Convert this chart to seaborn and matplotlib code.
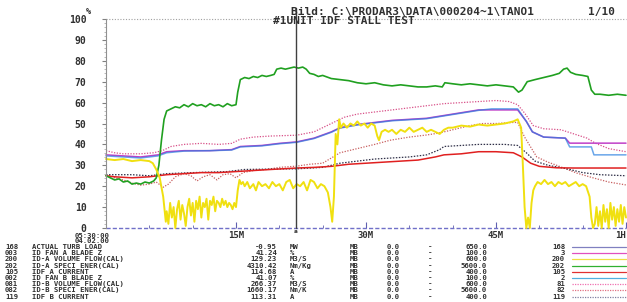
import matplotlib
matplotlib.use("Agg")
import matplotlib.pyplot as plt
import numpy as np
import pandas as pd
import seaborn as sns
from matplotlib.ticker import MultipleLocator

sns.set_theme(style="white")
plt.rcParams['font.family'] = ['DejaVu Sans Mono', 'DejaVu Sans']

# ---------------- data (minutes after 05:30:00, percent of range) ----------------
t_load = [0, 60]
v_load = [-0.15, -0.15]

t_blade_a = [0, 2, 4, 5, 6, 7, 9, 12, 14.5, 15.5, 18, 20, 22, 24, 26, 27, 29, 31, 33, 35, 37,
             38.5, 40, 41.5, 43, 46, 47.5, 48.5, 49.2, 50.5, 53, 53.5, 60]
v_blade_a = [35, 34.5, 34, 34.5, 35, 36.5, 37, 37, 37.5, 39, 39.5, 40.5, 41.2, 43, 46, 48, 49.5,
             50.5, 51.5, 52, 52.5, 53.5, 54.5, 55.5, 56.5, 56.5, 56.5, 51, 46, 43.5, 43, 40.6, 40.6]

t_blade_b = [0, 2, 4, 5, 6, 7, 9, 12, 14.5, 15.5, 18, 20, 22, 24, 26, 27, 29, 31, 33, 35, 37,
             38.5, 40, 41.5, 43, 44.5, 47.5, 48.5, 49.2, 50.5, 53, 53.5, 56, 56.3, 60]
v_blade_b = [34.5, 34, 33.5, 34, 34.5, 36, 36.8, 37, 37.3, 38.8, 39.3, 40.3, 41.0, 42.8, 45.8,
             47.8, 49.3, 50.3, 51.3, 51.8, 52.3, 53.3, 54.3, 55.3, 56.3, 57, 57, 51, 46, 43.5,
             43, 38.8, 38.8, 35, 35]

t_flow_a = [0, 1, 2, 3, 4, 5, 5.4, 5.8, 6.2, 6.6, 6.9,
            7.0, 7.2, 7.4, 7.6, 7.8, 8.0, 8.2, 8.4, 8.6, 8.8, 9.0, 9.2, 9.4, 9.6, 9.8, 10.0,
            10.2, 10.4, 10.6, 10.8, 11.0, 11.2, 11.4, 11.6, 11.8, 12.0, 12.2, 12.4, 12.6, 12.8,
            13.0, 13.2, 13.4, 13.6, 13.8, 14.0, 14.2, 14.4, 14.6, 14.8, 15.0, 15.2, 15.4, 15.6,
            15.8, 16.0, 16.3, 16.6, 17, 17.3, 17.6, 18, 18.4, 18.8, 19.2, 19.6, 20, 20.4, 20.8,
            21.2, 21.6, 22, 22.4, 22.8, 23.2, 23.6, 24, 24.4, 24.8, 25.2, 25.6, 25.9, 26.1, 26.3,
            26.5, 26.7, 26.9, 27.1, 27.4, 27.8, 28.2, 28.6, 29, 29.4, 29.8, 30.2, 30.6, 31, 31.3,
            31.5, 31.8, 32.2, 32.6, 33, 33.5, 34, 34.5, 35, 35.5, 36, 36.5, 37, 37.5, 38, 38.5,
            39, 39.5, 40, 41, 42, 43, 44, 45, 46, 47, 47.5, 47.9, 48.1, 48.3, 48.5, 48.7, 48.9,
            49.1, 49.3, 49.5, 49.8, 50.2, 50.6, 51, 51.4, 51.8, 52.2, 52.6, 53, 53.4, 53.8, 54.2,
            54.6, 55, 55.4, 55.8, 56.0, 56.2, 56.4, 56.6, 56.8, 57, 57.2, 57.4, 57.6, 57.8, 58,
            58.2, 58.4, 58.6, 58.8, 59, 59.2, 59.4, 59.6, 59.8, 60]
v_flow_a = [33, 32.5, 33, 32, 32.5, 32, 31, 28, 24, 15, 3,
            8, 2, 12, 5, 10, 0, 9, 13, 4, 11, 7, 1, 10, 14, 6, 12,
            3, 13, 9, 15, 5, 12, 10, 14, 4, 13, 11, 15, 8, 13,
            12, 10, 14, 11, 13, 10, 12, 11, 9, 12, 10, 18, 23, 21,
            22, 20, 22, 19, 21, 18, 22, 20, 21, 19, 22, 20, 21, 18, 22,
            23, 19, 21, 20, 22, 18, 23, 22, 19, 21, 20, 17, 10, 3, 15,
            45, 40, 52, 48, 50, 48, 50, 49, 51, 49, 50, 48, 50, 49, 44,
            42, 46, 47, 46, 47, 45, 47, 46, 48, 46, 47, 48, 46, 47, 46, 45,
            47, 48, 48, 49, 48.5, 49.5, 49, 49.5, 50, 51, 52, 48, 30, 10, 0, 5, 0,
            12, 18, 20, 22, 21, 23, 21, 22, 20, 22, 21, 22, 20, 21, 22,
            20, 21, 20, 15, 5, 0, 2, 10, 1, 8, 0, 11, 3, 9, 0,
            12, 4, 10, 1, 9, 3, 11, 2, 10, 5]

t_ener_a = [0, 0.5, 1, 1.5, 2, 2.5, 3, 3.5, 4, 4.5, 5, 5.5, 5.8, 6.1, 6.4, 6.7, 7, 7.5, 8, 8.5,
            9, 9.5, 10, 10.5, 11, 11.5, 12, 12.5, 13, 13.5, 14, 14.5, 15, 15.2, 15.5, 16, 16.5,
            17, 17.5, 18, 18.5, 19, 19.4, 19.7, 20.2, 20.7, 21.2, 21.7, 22.2, 22.7, 23.1, 23.5,
            24, 24.5, 25, 26, 27, 28, 29, 30, 31, 32, 33, 34, 35, 36, 37, 38, 38.8, 39.1, 40, 41,
            42, 43, 44, 45, 46, 47, 47.6, 48, 48.6, 49.5, 50.5, 51.5, 52.3, 52.8, 53.2, 53.6,
            54.2, 55, 55.6, 56, 56.4, 57, 58, 59, 60]
v_ener_a = [25, 24, 23, 23.5, 22, 22.5, 21, 21.5, 21, 22, 21.5, 22.5, 24, 30, 42, 52, 56, 57, 58,
            57.5, 59, 58, 59.5, 58.5, 59, 58, 59.5, 58.5, 59, 58, 59.5, 58.5, 59, 65, 71, 72,
            71.5, 72.5, 72, 73, 72.5, 73, 73.5, 76, 76.5, 76, 76.5, 77, 76.5, 77, 76, 74, 73.5,
            72.5, 73, 71.5, 71, 70.5, 69.5, 69, 69.5, 68.5, 68, 68.5, 68, 67.5, 67.5, 68, 67.5,
            69.5, 69, 68.5, 69, 68.5, 68, 68.5, 68, 67.5, 65, 66, 70, 71, 72, 73, 74, 76, 76.5,
            74.5, 73.5, 73, 72.5, 66, 64, 64, 63.5, 64, 63.5]

t_curr_a = [0, 1, 3, 5, 6, 7, 9, 11, 13, 15, 17, 19, 22, 24, 26, 28, 30, 32, 34, 36, 38, 39,
            41, 43, 45, 47, 48, 49, 50, 52, 54, 60]
v_curr_a = [25, 24.5, 24, 24.5, 25, 25.5, 26, 26.5, 26.5, 27, 27.5, 28, 28.7, 29, 29.5, 30.5,
            31, 31.5, 32, 32.5, 34, 35, 35.5, 36.5, 36.5, 36, 34, 31, 29.5, 28.8, 28.7, 28.7]

t_flow_b = [0, 1, 2, 4, 5.5, 6.5, 7.5, 9, 11, 13, 14.5, 15.5, 17, 19, 22, 24, 26, 27.5, 29, 31,
            33, 35, 37, 39, 41, 43, 45, 46.5, 47.5, 48.3, 49.3, 50.5, 52.5, 54, 55.5, 56.5, 58, 60]
v_flow_b = [37, 36, 35.5, 35.5, 36, 37, 39, 40, 40.5, 40, 40.5, 42.5, 43.5, 44, 44.4, 46, 50,
            53, 54.5, 55.5, 56.5, 57.5, 58.5, 59.5, 60, 60.5, 61, 60.5, 59, 55, 49, 47.5, 47, 45,
            43, 40.5, 38, 36.5]

t_ener_b = [0, 1, 2, 3, 4, 5, 5.8, 6.6, 7.2, 8, 9, 9.8, 10.5, 11.2, 12, 12.8, 13.5, 14.3, 15,
            15.8, 17, 18.5, 20, 22, 23.5, 25, 26.2, 27, 29, 31, 32.8, 35, 37, 38.5, 40, 42, 43.5,
            45, 47, 47.5, 48.3, 49.7, 51, 52, 54.3, 56.2, 58, 60]
v_ener_b = [25.5, 24, 23, 21.5, 20.5, 21, 22, 19.5, 21, 24.5, 26, 25, 22.5, 24.5, 25.5, 23, 25.5,
            26, 24, 26.5, 27.5, 28, 29, 29.6, 30.5, 31, 34, 36, 38, 40, 42, 43.5, 44.5, 45.5, 47,
            49, 50, 50, 50.5, 50.5, 43.5, 34, 31.5, 30, 26.3, 24, 22, 20.6]

t_curr_b = [0, 3, 5, 7, 10, 14, 16, 19, 22, 25, 27, 29, 31, 33, 35, 37, 38.5, 39, 41, 43, 46,
            47.5, 48.5, 49.5, 51, 53, 55, 57, 60]
v_curr_b = [25.5, 25.5, 25, 26, 26.5, 27, 28, 28.2, 28.3, 29, 31, 32, 33, 33.5, 34, 35, 37.5,
            39, 39.5, 40, 40, 39.5, 36, 32, 30, 28.5, 26.5, 25.5, 25]

# table texts
row_codes = ["168", "003", "200", "202", "105", "002", "081", "082", "119"]
row_names = ["ACTUAL TURB LOAD", "ID FAN A BLADE Z", "ID-A VOLUME FLOW(CAL)",
             "ID-A SPECI ENER(CAL)", "IDF A CURRENT", "ID FAN B BLADE Z",
             "ID-B VOLUME FLOW(CAL)", "ID-B SPECI ENER(CAL)", "IDF B CURRENT"]
row_values = ["-0.95", "41.24", "129.23", "4310.42", "114.68", "41.07", "266.37", "1660.17", "113.31"]
row_units = ["MW", "%", "M3/S", "Nm/Kg", "A", "%", "M3/S", "Nm/K", "A"]
row_min = ["0.0"] * 9
row_max = ["650.0", "100.0", "600.0", "5600.0", "400.0", "100.0", "600.0", "5600.0", "400.0"]
row_short = ["168", "3", "200", "202", "105", "2", "81", "82", "119"]

x_ticks = [15, 30, 45, 60]
x_labels = ["15M", "30M", "45M", "1H"]
y_ticks = [0, 10, 20, 30, 40, 50, 60, 70, 80, 90, 100]
cursor_t = 21.9

# ---------------- styles ----------------
series = [
    ("168", t_load, v_load, "#7070c8", (0, (3, 1.5)), 1.0, 1.0),
    ("82", t_ener_b, v_ener_b, "#c86060", (0, (1, 1.2)), 0.9, 1.0),
    ("119", t_curr_b, v_curr_b, "#303048", (0, (1.2, 1.2)), 0.9, 1.0),
    ("81", t_flow_b, v_flow_b, "#d85088", (0, (1, 1.2)), 0.9, 1.0),
    ("105", t_curr_a, v_curr_a, "#e02020", "-", 1.1, 1.0),
    ("3", t_blade_a, v_blade_a, "#c040c8", "-", 1.1, 1.0),
    ("2", t_blade_b, v_blade_b, "#2a80e0", "-", 1.1, 0.7),
    ("202", t_ener_a, v_ener_a, "#20a020", "-", 1.2, 1.0),
    ("200", t_flow_a, v_flow_a, "#f0e010", "-", 1.4, 1.0),
]
legend_style = {
    "168": ("#8080c0", "-"), "3": ("#e050c0", "-"), "200": ("#f0e040", "-"),
    "202": ("#30b030", "-"), "105": ("#e03030", "-"), "2": ("#50b0e0", "-"),
    "81": ("#f070b0", (0, (1, 1))), "82": ("#e07080", (0, (1, 1))), "119": ("#8080a0", (0, (1, 1))),
}

W, H = 627, 302
fig = plt.figure(figsize=(W / 100, H / 100), dpi=100)
fig.patch.set_facecolor("white")


def fx(px):
    return px / W


def fy(py):
    return 1 - py / H


ax = fig.add_axes([fx(106), fy(228), (626 - 106) / W, (228 - 19) / H])
ax.set_facecolor("white")

frames = []
for key, t, v, *_ in series:
    frames.append(pd.DataFrame({"t": t, "v": v, "series": key}))
df = pd.concat(frames, ignore_index=True)

for key, t, v, col, ls, lw, al in series:
    sns.lineplot(data=df[df["series"] == key], x="t", y="v", color=col, linestyle=ls,
                 linewidth=lw, alpha=al, estimator=None, sort=False, ax=ax, legend=False,
                 clip_on=False)

ax.set_xlim(0, 60)
ax.set_ylim(0, 100)
ax.set_xlabel("")
ax.set_ylabel("")

for s in ["top", "right", "bottom"]:
    ax.spines[s].set_visible(False)
ax.spines["left"].set_color("#909090")
ax.spines["left"].set_linewidth(0.8)
ax.spines["left"].set_linestyle((0, (1, 1)))

# top dotted 100% line
ax.axhline(100, color="#a0a0a0", lw=0.8, ls=(0, (1, 1.5)), clip_on=False)

# cursor
ax.axvline(cursor_t, ymin=0, ymax=(228 - 8) / (228 - 19), color="#404040", lw=1.0, clip_on=False)

ax.set_yticks(y_ticks)
ax.set_yticklabels([str(v) for v in y_ticks])
ax.yaxis.set_minor_locator(MultipleLocator(2))
ax.tick_params(axis="y", which="major", direction="out", length=3, width=0.8, color="#808080",
               pad=11, labelsize=7, labelcolor="#303030", left=True)
ax.tick_params(axis="y", which="minor", direction="out", length=1.5, width=0.5, color="#a0a0a0",
               left=True)

ax.set_xticks(x_ticks)
ax.set_xticklabels(x_labels)
ax.xaxis.set_minor_locator(MultipleLocator(5))
ax.tick_params(axis="x", which="major", direction="in", length=4, width=0.8, color="#6060b0",
               pad=2, labelsize=6.5, labelcolor="#303030", bottom=True)
ax.tick_params(axis="x", which="minor", direction="in", length=2.5, width=0.6, color="#6060b0",
               bottom=True)
for lab in ax.get_yticklabels() + ax.get_xticklabels():
    lab.set_fontweight("bold")
ax.get_xticklabels()[-1].set_horizontalalignment("right")

txt = dict(fontsize=5.2, fontweight="bold", color="#303030", va="center")
fig.text(fx(91), fy(12), "%", ha="right", fontsize=6, fontweight="bold", color="#303030",
         va="center")
fig.text(fx(110), fy(235.5), "05:30:00", ha="right", **txt)
fig.text(fx(110), fy(241.3), "04.02.00", ha="right", **txt)
fig.text(fx(296), fy(231.5), "a", ha="center", fontsize=4.5, fontweight="bold", color="#303030",
         va="center")

ttl = dict(fontsize=8, fontweight="bold", color="#303030", va="center")
fig.text(fx(291), fy(12.5), "Bild: C:\\PRODAR3\\DATA\\000204~1\\TANO1", ha="left", **ttl)
fig.text(fx(615), fy(12.5), "1/10", ha="right", **ttl)
fig.text(fx(273), fy(21.5), "#1UNIT IDF STALL TEST", ha="left", **ttl)

for i in range(9):
    y = fy(247 + 6.2 * i)
    fig.text(fx(5), y, row_codes[i], ha="left", **txt)
    fig.text(fx(32), y, row_names[i], ha="left", **txt)
    fig.text(fx(277), y, row_values[i], ha="right", **txt)
    fig.text(fx(290), y, row_units[i], ha="left", **txt)
    fig.text(fx(350), y, "MB", ha="left", **txt)
    fig.text(fx(387), y, row_min[i], ha="left", **txt)
    fig.text(fx(430), y, "-", ha="center", **txt)
    fig.text(fx(487), y, row_max[i], ha="right", **txt)
    fig.text(fx(565), y, row_short[i], ha="right", **txt)
    col, ls = legend_style[row_short[i]]
    fig.add_artist(plt.Line2D([fx(572), fx(626)], [y, y], color=col, ls=ls, lw=0.9,
                              transform=fig.transFigure))

fig.savefig("out.png", dpi=100, facecolor="white")
